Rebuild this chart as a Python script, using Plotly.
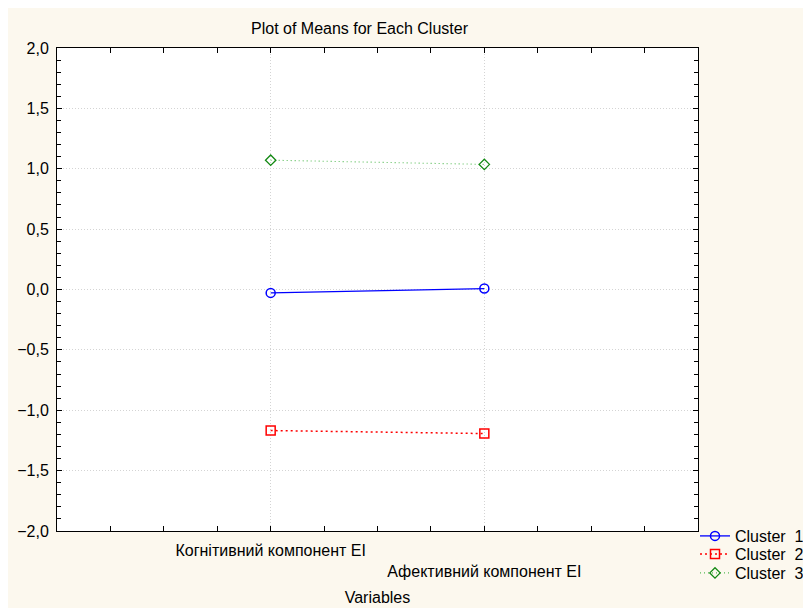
import plotly.graph_objects as go

variables = ["Когнітивний компонент EI", "Афективний компонент EI"]
var_pos = [1, 2]
cluster_names = ["Cluster\u00a0\u00a01", "Cluster\u00a0\u00a02", "Cluster\u00a0\u00a03"]
cluster1 = [-0.028, 0.008]
cluster2 = [-1.168, -1.193]
cluster3 = [1.071, 1.036]

y_ticks = [-2.0, -1.5, -1.0, -0.5, 0.0, 0.5, 1.0, 1.5, 2.0]

bg = "#FCF8EE"
font_family = "Liberation Sans, Arial, sans-serif"
FS = 16

# the page body adds an 8px offset; layout numbers below are in figure pixels
OFF = 8
W, H = 811, 608
L, R, T, B = 57 - OFF, 698 - OFF, 48 - OFF, 531 - OFF
PW, PH = R - L, B - T


def px_x(px):
    return (px - OFF - L) / PW


def px_y(py):
    return (B - (py - OFF)) / PH


fig = go.Figure()
fig.add_trace(go.Scatter(
    x=var_pos, y=cluster1, name=cluster_names[0], mode="lines+markers", legend="legend",
    line=dict(color="#0000FF", width=1.3),
    marker=dict(symbol="circle-open", size=9, color="#0000FF", line=dict(width=1.5)),
))
fig.add_trace(go.Scatter(
    x=var_pos, y=cluster2, name=cluster_names[1], mode="lines+markers", legend="legend2",
    line=dict(color="#FF0000", width=1.5, dash="2px,3px"),
    marker=dict(symbol="square-open", size=9, color="#FF0000", line=dict(width=1.5)),
))
fig.add_trace(go.Scatter(
    x=var_pos, y=cluster3, name=cluster_names[2], mode="lines+markers", legend="legend3",
    line=dict(color="#55BB55", width=1.1, dash="1px,3px"),
    marker=dict(symbol="diamond-open", size=8, color="#118811", line=dict(width=1.3)),
))

ticktext = [variables[0], "<br>" + variables[1]]

legend_common = dict(x=px_x(695), xanchor="left", yanchor="middle",
                     bgcolor="rgba(0,0,0,0)", font=dict(size=FS, family=font_family),
                     itemwidth=30)

fig.update_layout(
    width=W, height=H,
    margin=dict(l=L, r=W - R, t=T, b=H - B, autoexpand=False),
    paper_bgcolor=bg,
    plot_bgcolor="white",
    separators=", ",
    font=dict(family=font_family, size=FS, color="black"),
    title=dict(text="Plot of Means for Each Cluster", x=px_x(359.5), xref="paper", xanchor="center",
               y=1 - (28 - OFF) / H, yref="container", yanchor="middle",
               font=dict(size=FS, color="black")),
    showlegend=True,
    legend=dict(y=px_y(536), **legend_common),
    legend2=dict(y=px_y(554), **legend_common),
    legend3=dict(y=px_y(573), **legend_common),
    xaxis=dict(
        range=[0, 3], tickvals=var_pos, ticktext=ticktext,
        showline=True, linecolor="black", linewidth=1, mirror="ticks",
        ticks="inside", ticklen=5, tickcolor="black",
        minor=dict(dtick=0.25, tick0=0, ticks="inside", ticklen=5, tickcolor="black", showgrid=False),
        showgrid=True, gridcolor="#D4D4D4", griddash="1px,2px", gridwidth=1,
        zeroline=False, ticklabelstandoff=5, automargin=False,
        title=dict(text="Variables", standoff=12, font=dict(size=FS)),
        tickfont=dict(size=FS),
    ),
    yaxis=dict(
        range=[-2, 2], tickvals=y_ticks, tickformat=".1f",
        showline=True, linecolor="black", linewidth=1, mirror="ticks",
        ticks="inside", ticklen=5, tickcolor="black",
        minor=dict(dtick=0.1, tick0=0, ticks="inside", ticklen=4, tickcolor="black", showgrid=False),
        showgrid=True, gridcolor="#D4D4D4", griddash="1px,2px", gridwidth=1,
        zeroline=False, automargin=False, ticklabelstandoff=4,
        tickfont=dict(size=FS),
    ),
)

fig.write_html("out.html")
